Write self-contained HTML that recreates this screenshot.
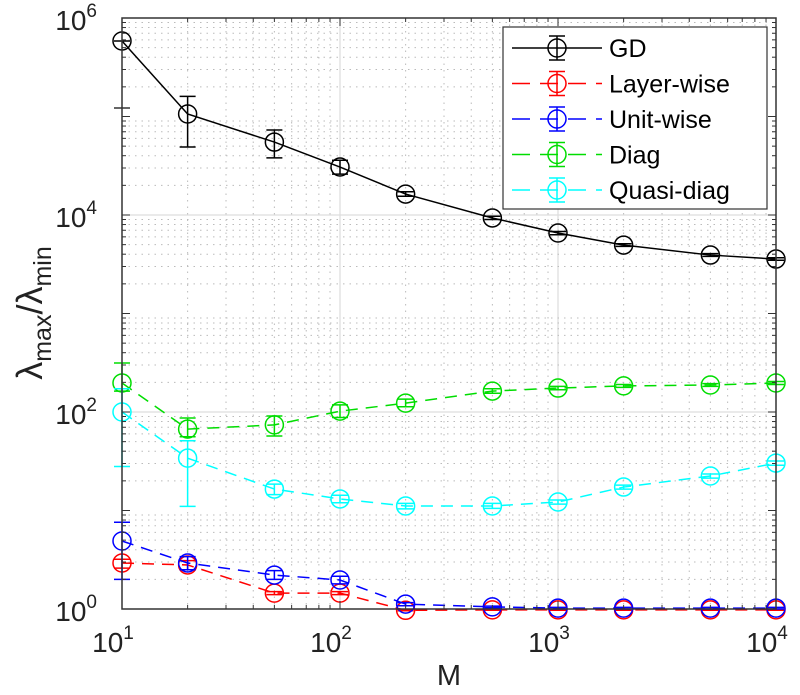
<!DOCTYPE html>
<html><head><meta charset="utf-8"><style>
body{margin:0;background:#fff;}
svg text{font-family:"Liberation Sans",sans-serif;}
</style></head><body>
<svg id="chart" width="800" height="690" xmlns="http://www.w3.org/2000/svg">
<g id="grid"></g>
<g id="series"></g>
<g id="axes"></g>
<g id="legend"></g>
</svg>
<script>
const xs = [10,20,50,100,200,500,1000,2000,5000,10000];
const seriesNames = ["GD","Layer-wise","Unit-wise","Diag","Quasi-diag"];
const colors = ["#000","#f00","#00f","#0d0","#0ff"];
const gdVals = [5.84e5,1.06e5,5.5e4,3.07e4,1.63e4,9330,6560,4950,3920,3570];
const gdLo = [5.84e5,4.9e4,3.8e4,2.6e4,1.55e4,9000,6300,4800,3800,3470];
const gdHi = [5.84e5,1.6e5,7.3e4,3.6e4,1.72e4,9700,6800,5100,4050,3680];
const layerVals = [2.93,2.8,1.45,1.45,0.97,0.98,0.98,0.98,0.98,0.98];
const layerLo = [2.6,2.5,1.4,1.4,0.96,0.97,0.97,0.97,0.97,0.97];
const layerHi = [3.2,3.1,1.5,1.5,0.99,0.99,0.99,0.99,0.99,0.99];
const unitVals = [4.9,2.93,2.21,1.97,1.12,1.05,1.02,1.02,1.02,1.02];
const unitLo = [2.0,2.5,2.0,1.8,1.08,1.03,1.0,1.0,1.0,1.0];
const unitHi = [7.6,3.4,2.45,2.15,1.16,1.07,1.04,1.04,1.04,1.04];
const diagVals = [197,67,74,102,123,163,175,184,188,197];
const diagLo = [163,56,57,88,113,155,168,178,182,190];
const diagHi = [314,87,91,118,135,172,182,190,194,204];
const quasiVals = [100,34,16.5,13.1,11.1,11.1,12.2,17.3,22.4,30.3];
const quasiLo = [28,11,14.5,12,10.4,10.5,11.6,16.5,21.3,28.8];
const quasiHi = [172,51,18.5,14.3,11.8,11.8,12.8,18.1,23.5,31.8];
const xTicks = [1,2,3,4];
const yTicks = [0,2,4,6];

const NS="http://www.w3.org/2000/svg";
const L=122,R=776,T=18,B=609;
const X=v=>L+(Math.log10(v)-1)*(R-L)/3;
const Y=v=>B-Math.log10(v)*(B-T)/6;
function mk(tag,attrs,parent){const e=document.createElementNS(NS,tag);for(const k in attrs)e.setAttribute(k,attrs[k]);parent.appendChild(e);return e;}
const grid=document.getElementById('grid'),axes=document.getElementById('axes'),ser=document.getElementById('series'),leg=document.getElementById('legend');

for(let d=1;d<4;d++)for(let m=1;m<10;m++){const v=Math.pow(10,d)*m;const x=X(v);
 if(m===1){if(d>1){const g=mk('line',{x1:x,x2:x,y1:T,y2:B,stroke:'#ddd','stroke-width':1.2},grid);}}
 else{const g=mk('line',{x1:x,x2:x,y1:T,y2:B,stroke:'#bbb','stroke-width':1,'stroke-dasharray':'1.5 5'},grid);}
 mk('line',{x1:x,x2:x,y1:B,y2:B-(m===1?8:4),stroke:'#333'},axes);mk('line',{x1:x,x2:x,y1:T,y2:T+(m===1?8:4),stroke:'#333'},axes);}
for(let d=0;d<6;d++)for(let m=1;m<10;m++){const v=Math.pow(10,d)*m;const y=Y(v);
 if(m===1){if(d>0&&d%2===0){const g=mk('line',{x1:L,x2:R,y1:y,y2:y,stroke:'#ddd','stroke-width':1.2},grid);}}
 else{const g=mk('line',{x1:L,x2:R,y1:y,y2:y,stroke:'#bbb','stroke-width':1,'stroke-dasharray':'1.5 5'},grid);}
 mk('line',{x1:L,x2:L+(m===1?8:4),y1:y,y2:y,stroke:'#333'},axes);mk('line',{x1:R,x2:R-(m===1?8:4),y1:y,y2:y,stroke:'#333'},axes);}
mk('line',{x1:L-8,x2:L+8,y1:108,y2:108,stroke:'#333','stroke-width':1.5},axes);
const box=mk('rect',{x:L,y:T,width:R-L,height:B-T,fill:'none',stroke:'#333','stroke-width':1.5},axes);


xTicks.forEach(p=>{const t=mk('text',{x:X(Math.pow(10,p))-9,y:652,'font-size':28,'text-anchor':'middle',fill:'#222'},axes);
 
 t.innerHTML='10<tspan dy="-13" font-size="19">'+p+'</tspan>';});
yTicks.forEach(p=>{const t=mk('text',{x:97,y:Y(Math.pow(10,p))+12,'font-size':28,'text-anchor':'end',fill:'#222'},axes);
 
 t.innerHTML='10<tspan dy="-13" font-size="19">'+p+'</tspan>';});
const xl=mk('text',{x:449,y:685,'font-size':29,'text-anchor':'middle',fill:'#222'},axes);xl.textContent='M';

const yl=mk('text',{x:0,y:0,'font-size':36,'text-anchor':'middle',fill:'#222',transform:'translate(42,313) rotate(-90)'},axes);

yl.innerHTML='λ<tspan dy="9" font-size="25">max</tspan><tspan dy="-9">/λ</tspan><tspan dy="9" font-size="25">min</tspan>';

const all=[[gdVals,gdLo,gdHi],[layerVals,layerLo,layerHi],[unitVals,unitLo,unitHi],[diagVals,diagLo,diagHi],[quasiVals,quasiLo,quasiHi]];
all.forEach((s,i)=>{const [v,lo,hi]=s;const c=colors[i];const dash=i===0?'':'12 8';
 const g=mk('g',{},ser);
 const pl=mk('polyline',{points:xs.map((x,k)=>X(x)+','+Y(v[k])).join(' '),fill:'none',stroke:c,'stroke-width':1.5,'stroke-dasharray':dash},g);
 
 xs.forEach((x,k)=>{const cx=X(x);
  const e=mk('path',{d:`M${cx},${Y(hi[k])}V${Y(lo[k])}M${cx-8},${Y(hi[k])}H${cx+8}M${cx-8},${Y(lo[k])}H${cx+8}`,stroke:c,'stroke-width':1.5,fill:'none'},g);
  
  const m=mk('circle',{cx:cx,cy:Y(v[k]),r:9,fill:'none',stroke:c,'stroke-width':1.5},g);
  });});

const lb=mk('rect',{x:503,y:27,width:264,height:182,fill:'#fff',stroke:'#333','stroke-width':1.2},leg);

seriesNames.forEach((n,i)=>{const y=48+i*35.5;const c=colors[i];
 const g=mk('g',{},leg);
 mk('line',{x1:512,x2:602,y1:y,y2:y,stroke:c,'stroke-width':1.5,'stroke-dasharray':i===0?'':'18 10'},g);
 mk('path',{d:`M557,${y-12}V${y+12}M549,${y-12}H565M549,${y+12}H565`,stroke:c,'stroke-width':1.5},g);
 mk('circle',{cx:557,cy:y,r:9,fill:'none',stroke:c,'stroke-width':1.5},g);
 const t=mk('text',{x:609,y:y+9,'font-size':25,fill:'#000'},g);t.textContent=n;});
</script>
</body></html>
